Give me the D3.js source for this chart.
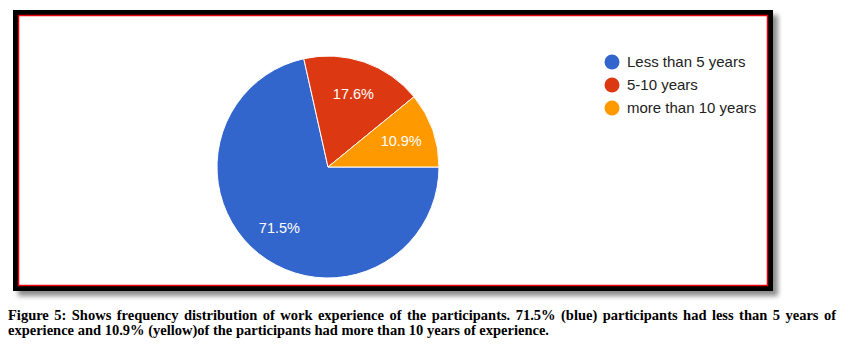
<!DOCTYPE html>
<html>
<head>
<meta charset="utf-8">
<script src="https://cdnjs.cloudflare.com/ajax/libs/d3/7.8.5/d3.min.js"></script>
<style>
  body { margin: 0; background: #fff; }
  svg { display: block; }
</style>
</head>
<body>
<svg id="chart" width="852" height="347"></svg>
<script>
const categories = ["Less than 5 years", "5-10 years", "more than 10 years"];
const values = [71.5, 17.6, 10.9];
const colors = ["#3366cc", "#dc3912", "#ff9900"];
const captionLines = [
  "Figure 5: Shows frequency distribution of work experience of the participants. 71.5% (blue) participants had less than 5 years of",
  "experience and 10.9% (yellow)of the participants had more than 10 years of experience."
];

const svg = d3.select("#chart");

// frame with drop shadow
const defs = svg.append("defs");
const f = defs.append("filter").attr("id", "shadow").attr("x", "-5%").attr("y", "-5%").attr("width", "115%").attr("height", "115%");
f.append("feGaussianBlur").attr("in", "SourceAlpha").attr("stdDeviation", 2.5);
f.append("feOffset").attr("dx", 5).attr("dy", 5).attr("result", "b");
f.append("feComponentTransfer").append("feFuncA").attr("type", "linear").attr("slope", 0.45);
const m = f.append("feMerge");
m.append("feMergeNode");
m.append("feMergeNode").attr("in", "SourceGraphic");

svg.append("rect").attr("x", 15.5).attr("y", 12.5).attr("width", 755).attr("height", 276)
  .attr("fill", "#fff").attr("stroke", "#000").attr("stroke-width", 5).attr("filter", "url(#shadow)");
svg.append("rect").attr("x", 18.5).attr("y", 15.5).attr("width", 749).attr("height", 270)
  .attr("fill", "none").attr("stroke", "#e8000b").attr("stroke-width", 1.5);

// pie
const cx = 328, cy = 167, r = 111;
const pie = d3.pie().sort(null).startAngle(Math.PI / 2).endAngle(Math.PI / 2 + 2 * Math.PI);
const arcs = pie(values);
const arc = d3.arc().innerRadius(0).outerRadius(r);
const labelArc = d3.arc().innerRadius(r * 0.7).outerRadius(r * 0.7);

const g = svg.append("g").attr("transform", `translate(${cx},${cy})`);
g.selectAll("path").data(arcs).join("path")
  .attr("d", arc)
  .attr("fill", (d, i) => colors[i])
  .attr("stroke", "#fff").attr("stroke-width", 1);

g.selectAll("text").data(arcs).join("text")
  .attr("transform", d => `translate(${labelArc.centroid(d)})`)
  .attr("text-anchor", "middle").attr("dy", "0.35em")
  .attr("font-family", "Liberation Sans, Arial, sans-serif").attr("font-size", 14.5)
  .attr("fill", "#fff")
  .text(d => d.data.toFixed(1) + "%");

// legend
const legend = svg.append("g").attr("transform", "translate(612,62)");
const item = legend.selectAll("g").data(categories).join("g")
  .attr("transform", (d, i) => `translate(0,${i * 23})`);
item.append("circle").attr("r", 7.5).attr("fill", (d, i) => colors[i]);
item.append("text").attr("x", 15).attr("dy", "0.35em")
  .attr("font-family", "Liberation Sans, Arial, sans-serif").attr("font-size", 15)
  .attr("fill", "#222").text(d => d);

// caption
const cap = svg.append("g").attr("font-family", "Liberation Serif, serif").attr("font-weight", "bold")
  .attr("font-size", 14.5).attr("fill", "#000");
const l1 = cap.append("text").attr("x", 8).attr("y", 320).text(captionLines[0]);
const nat = l1.node().getComputedTextLength();
const spaces = captionLines[0].split(" ").length - 1;
l1.attr("word-spacing", (836 - 8 - nat) / spaces);
cap.append("text").attr("x", 8).attr("y", 335).text(captionLines[1]);
</script>
</body>
</html>
